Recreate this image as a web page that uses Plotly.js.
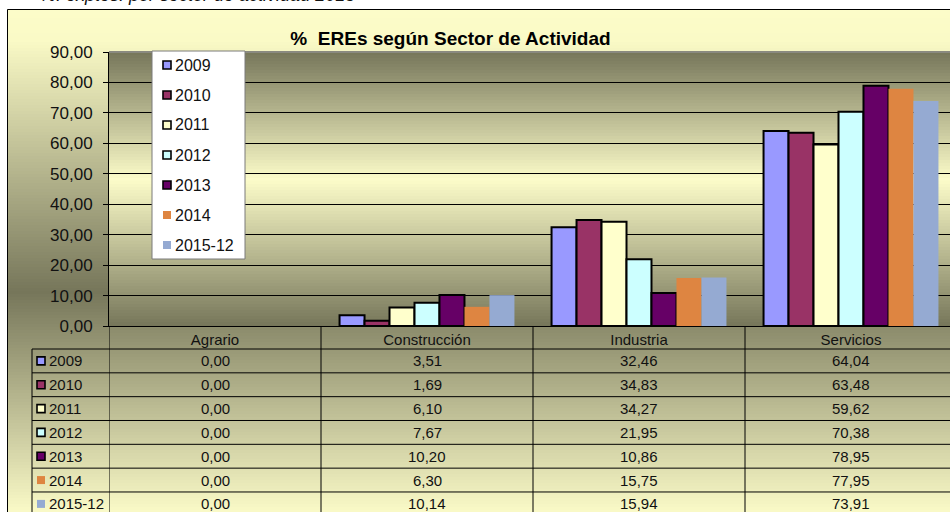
<!DOCTYPE html>
<html>
<head>
<meta charset="utf-8">
<script src="https://cdn.plot.ly/plotly-3.0.1.min.js"></script>
<style>
  html, body { margin: 0; padding: 0; overflow: hidden; background: #fff; }
  #chart { width: 957px; height: 512px; }
</style>
</head>
<body>
<div id="chart"></div>
<script>
// ---------------- DATA ----------------
const categories = ['Agrario', 'Construcción', 'Industria', 'Servicios'];
const seriesNames = ['2009', '2010', '2011', '2012', '2013', '2014', '2015-12'];
const v2009   = [0.00, 3.51, 32.46, 64.04];
const v2010   = [0.00, 1.69, 34.83, 63.48];
const v2011   = [0.00, 6.10, 34.27, 59.62];
const v2012   = [0.00, 7.67, 21.95, 70.38];
const v2013   = [0.00, 10.20, 10.86, 78.95];
const v2014   = [0.00, 6.30, 15.75, 77.95];
const v2015   = [0.00, 10.14, 15.94, 73.91];
const seriesValues = [v2009, v2010, v2011, v2012, v2013, v2014, v2015];
const chartTitle = '% \u00a0EREs según Sector de Actividad';
const topCaption = '%. exptes. por sector de actividad 2015';

// ---------------- STYLE ----------------
const seriesColors = ['#9999FF', '#993366', '#FFFFCC', '#CCFFFF', '#660066', '#DE8541', '#95AAD2'];
const outlined = [true, true, true, true, true, false, false];
const FONT = 'Arial, "Liberation Sans", sans-serif';
const TXT = '#111111';

// pixel geometry helpers (layout)
const W = 957, H = 512, L = 109, T = 52, PW = 848, PH = 274;
const px2x = px => (px - L) / PW;
const py2y = py => (T + PH - py) / PH;

const DARK = [118, 118, 90];
const LIGHT = [252, 252, 201];

function mix(a, b, t) {
  return 'rgb(' + a.map((v, i) => Math.round(v + (b[i] - v) * t)).join(',') + ')';
}
function colorAt(stops, py) {
  for (let i = 0; i < stops.length - 1; i++) {
    const [p0, c0] = stops[i], [p1, c1] = stops[i + 1];
    if (py >= p0 && py <= p1) return mix(c0, c1, (py - p0) / (p1 - p0));
  }
  return mix(stops[stops.length - 1][1], stops[stops.length - 1][1], 0);
}
const shapes = [];
function bands(x0px, x1px, stops, step) {
  const top = stops[0][0], bot = stops[stops.length - 1][0];
  for (let py = top; py < bot; py += step) {
    const b = Math.min(py + step, bot);
    shapes.push({
      type: 'rect', layer: 'below', xref: 'paper', yref: 'paper',
      x0: px2x(x0px), x1: px2x(x1px),
      y0: py2y(py), y1: py2y(Math.min(b + 0.6, bot)),
      fillcolor: colorAt(stops, (py + b) / 2), line: { width: 0 }
    });
  }
}
// outer chart area gradient
bands(7, 960, [[9, LIGHT], [40, [250, 250, 198]], [292, DARK], [512, [250, 250, 199]]], 3);
// plot area gradient
bands(L, 960, [[T, DARK], [180, LIGHT], [T + PH, DARK]], 3);

// chart area border
shapes.push({ type: 'rect', layer: 'below', xref: 'paper', yref: 'paper',
  x0: px2x(7.5), x1: px2x(1000), y0: py2y(9.5), y1: py2y(600),
  line: { color: '#000', width: 1 }, fillcolor: 'rgba(0,0,0,0)' });

// ---------------- DATA TABLE (below axis) ----------------
const headerBottom = 349, rowH = 23.83, nRows = seriesNames.length;
for (let k = 0; k <= categories.length; k++) {
  shapes.push({ type: 'line', xref: 'x', yref: 'paper', x0: k - 0.5, x1: k - 0.5,
    y0: py2y(T + PH), y1: py2y(headerBottom + rowH * nRows), line: { color: '#000', width: 1 } });
}
shapes.push({ type: 'line', xref: 'paper', yref: 'paper', x0: px2x(32), x1: px2x(32),
  y0: py2y(headerBottom), y1: py2y(headerBottom + rowH * nRows), line: { color: '#000', width: 1 } });
for (let r = 0; r <= nRows; r++) {
  const py = headerBottom + r * rowH;
  shapes.push({ type: 'line', xref: 'paper', yref: 'paper', x0: px2x(32), x1: px2x(1000),
    y0: py2y(py), y1: py2y(py), line: { color: '#000', width: 1 } });
}
// plot top border (gray)
shapes.push({ type: 'line', xref: 'paper', yref: 'paper', x0: 0, x1: px2x(1000),
  y0: 1, y1: 1, line: { color: '#8a8a80', width: 2 } });

const annotations = [];
function keyShape(cxPx, cyPx, i) {
  const s = 4;
  shapes.push({ type: 'rect', xref: 'paper', yref: 'paper',
    x0: px2x(cxPx - s), x1: px2x(cxPx + s), y0: py2y(cyPx + s), y1: py2y(cyPx - s),
    fillcolor: seriesColors[i],
    line: outlined[i] ? { color: '#000', width: 1.6 } : { width: 0 } });
}
seriesNames.forEach((name, i) => {
  const cy = headerBottom + rowH * (i + 0.5);
  keyShape(41, cy, i);
  annotations.push({ xref: 'paper', yref: 'paper', x: px2x(47), y: py2y(cy),
    xanchor: 'left', yanchor: 'middle', text: name, showarrow: false,
    font: { family: FONT, size: 15, color: TXT } });
  categories.forEach((cat, c) => {
    annotations.push({ xref: 'x', yref: 'paper', x: cat, y: py2y(cy),
      xanchor: 'center', yanchor: 'middle', showarrow: false,
      text: seriesValues[i][c].toFixed(2).replace('.', ','),
      font: { family: FONT, size: 15, color: TXT } });
  });
});

// ---------------- FLOATING LEGEND (manual) ----------------
shapes.push({ type: 'rect', xref: 'paper', yref: 'paper',
  x0: px2x(152), x1: px2x(245), y0: py2y(259), y1: py2y(51),
  fillcolor: '#ffffff', line: { color: '#7a7a7a', width: 1 } });
seriesNames.forEach((name, i) => {
  const cy = 65 + 30 * i;
  keyShape(167, cy, i);
  annotations.push({ xref: 'paper', yref: 'paper', x: px2x(173), y: py2y(cy),
    xanchor: 'left', yanchor: 'middle', text: name, showarrow: false,
    font: { family: FONT, size: 16, color: TXT } });
});

// top caption (partly cut by the page edge, as in the reference)
annotations.push({ xref: 'paper', yref: 'paper', x: px2x(38), y: py2y(7),
  xanchor: 'left', yanchor: 'bottom', showarrow: false,
  text: '<i>' + topCaption + '</i>',
  font: { family: FONT, size: 18, color: TXT } });

// ---------------- TRACES ----------------
const traces = seriesNames.map((name, i) => ({
  type: 'bar', name: name, x: categories, y: seriesValues[i],
  marker: { color: seriesColors[i],
    line: { color: '#000', width: seriesValues[i].map(v => (outlined[i] && v > 0) ? 2 : 0) } },
  showlegend: false, hoverinfo: 'skip'
}));

const layout = {
  width: W, height: H,
  margin: { l: L, r: 0, t: T, b: H - T - PH, pad: 0 },
  paper_bgcolor: '#ffffff', plot_bgcolor: 'rgba(0,0,0,0)',
  separators: ',.',
  barmode: 'group', bargap: 0.175, bargroupgap: 0,
  showlegend: false,
  font: { family: FONT, color: TXT },
  title: { text: '<b>' + chartTitle + '</b>', font: { family: FONT, size: 19, color: '#000' },
    x: 450.5 / W, xanchor: 'center', xref: 'container',
    y: 1 - 38.5 / H, yanchor: 'middle', yref: 'container' },
  xaxis: { type: 'category', range: [-0.5, 3.5], showline: true, linecolor: '#000', linewidth: 1,
    ticks: '', showgrid: false, zeroline: false, fixedrange: true,
    tickfont: { family: FONT, size: 15, color: TXT } },
  yaxis: { range: [0, 90], dtick: 10, tick0: 0, tickformat: '.2f', showline: true,
    linecolor: '#000', linewidth: 1, ticks: 'outside', ticklen: 5, tickcolor: '#000',
    showgrid: true, gridcolor: '#000', gridwidth: 1, zeroline: false, fixedrange: true,
    ticklabelstandoff: 7, tickfont: { family: FONT, size: 17, color: TXT } },
  shapes: shapes,
  annotations: annotations
};

Plotly.newPlot('chart', traces, layout, { displayModeBar: false, staticPlot: true });
</script>
</body>
</html>
